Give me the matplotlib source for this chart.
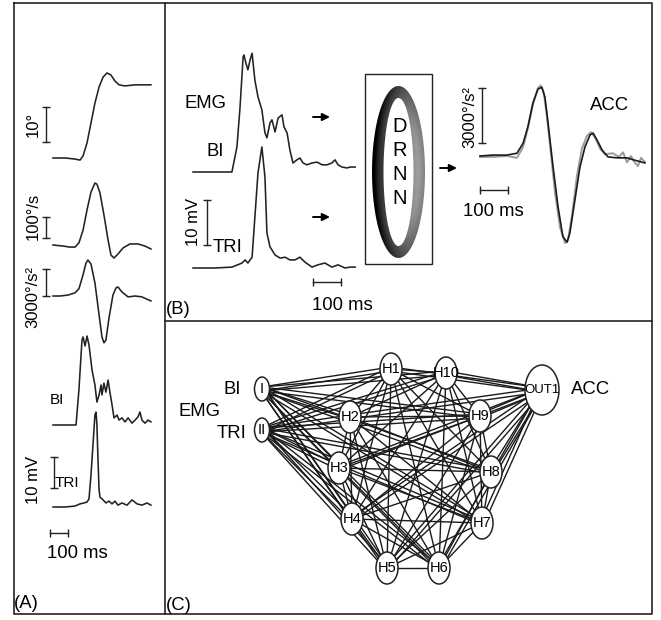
import numpy as np
import matplotlib
matplotlib.use("Agg")
import matplotlib.pyplot as plt
from matplotlib.patches import Ellipse, Rectangle, PathPatch
from matplotlib.path import Path

plt.rcParams['font.family'] = ['Liberation Sans', 'DejaVu Sans']

# ---- panel A traces (time in ms) ----
a_pos_t = [0, 67, 122, 150, 167, 189, 211, 233, 256, 278, 300, 322, 344, 367, 400, 456, 544]
a_pos_deg = [0, 0, -0.3, -0.6, 0.6, 4.3, 10.0, 15.7, 20.3, 23.1, 24.3, 23.7, 22.0, 20.9, 20.6, 20.9, 20.9]

a_vel_t = [0, 56, 94, 122, 144, 167, 189, 211, 233, 244, 261, 283, 306, 322, 339, 361, 389, 428, 472, 511, 544]
a_vel = [0, -5, -10, -10, 10, 71, 167, 252, 295, 290, 248, 143, 24, -48, -62, -43, -14, 5, 5, -5, -19]

a_acc_t = [0, 39, 83, 122, 144, 167, 183, 194, 211, 233, 256, 272, 283, 294, 311, 333, 350, 361, 383, 417, 456, 494, 544]
a_acc = [0, 0, 100, 350, 800, 2350, 3650, 4000, 3550, 1450, -2100, -4550, -5200, -4900, -2450, 100, 900, 1000, 450, -100, 0, -100, -550]

a_bi_t = [0, 128, 144, 161, 167, 178, 189, 200, 217, 233, 244, 256, 267, 272, 283, 294, 306, 317, 328,
          339, 356, 367, 383, 400, 417, 439, 456, 472, 483, 494, 511, 528, 544]
a_bi_mv = [0, 0, 11.3, 27.4, 28.4, 25.5, 28.7, 25.8, 17.7, 12.9, 7.4, 9.7, 12.9, 9.7, 13.5, 10.6, 14.5, 10.3, 6.5,
           2.3, 3.2, 1.6, 2.3, 1.0, 2.3, 0.6, 1.6, 2.6, 4.2, 1.6, 0.6, 1.6, 1.0]

a_tri_t = [0, 67, 122, 150, 172, 189, 200, 211, 222, 233, 239, 244, 250, 256, 261, 278, 294, 311, 328,
           344, 361, 383, 411, 439, 467, 494, 522, 544]
a_tri_mv = [0, 0, 0.3, 1.0, 1.3, 1.6, 2.6, 10.3, 20.0, 29.7, 30.6, 26.5, 15.2, 5.5, 3.2, 2.3, 1.3, 1.9, 1.0,
            1.9, 0.6, 1.3, 0.6, 2.3, 1.0, 0.6, 1.3, 0.6]

# ---- panel B traces ----
b_bi_t = [0, 139, 157, 168, 179, 182, 189, 196, 204, 211, 221, 232, 246, 257, 264, 275, 282, 293, 304, 318,
          325, 336, 346, 357, 371, 382, 393, 407, 425, 443, 461, 479, 496, 507, 518, 532, 550, 561, 579]
b_bi_mv = [0, 0, 5.6, 14.4, 25.6, 26.0, 24.2, 22.7, 24.9, 26.4, 20.4, 16.7, 13.8, 8.7, 7.6, 10.9, 11.6, 8.9, 12.0, 12.7,
           10.0, 8.7, 4.9, 2.0, 2.7, 3.1, 2.0, 1.6, 2.0, 2.2, 1.6, 1.6, 2.0, 2.7, 1.6, 1.1, 0.9, 1.1, 1.1]

b_tri_t = [0, 79, 139, 175, 186, 196, 211, 221, 232, 246, 257, 264, 275, 293, 311, 329, 346, 364, 382, 400,
           425, 446, 471, 496, 518, 543, 561, 579]
b_tri_mv = [0, 0, 0.2, 1.1, 1.8, 1.1, 2.4, 11.3, 21.1, 26.9, 20.2, 7.8, 4.7, 2.9, 2.2, 2.4, 1.8, 1.8, 2.4, 1.3,
            0.2, 0.7, 1.1, 0.2, 0.7, 0, 0.2, 0.2]

acc_meas_t = [0, 46, 96, 132, 154, 171, 189, 207, 221, 232, 243, 261, 279, 296, 311, 321, 339, 357, 375, 393,
              404, 418, 436, 457, 489, 525, 546, 589]
acc_meas = [0, 50, 50, 150, 700, 1600, 2900, 3650, 3750, 3200, 1800, -600, -2800, -4400, -4700, -4200, -2400, -600,
            500, 1150, 1250, 870, 330, -50, -100, -100, -200, -380]
acc_pred_t = [0, 46, 96, 132, 154, 171, 189, 207, 216, 227, 238, 252, 268, 286, 304, 314, 329, 346, 364, 382,
              396, 411, 429, 446, 475, 496, 511, 525, 539, 550, 564, 575, 589]
acc_pred = [-50, -50, 0, -100, 500, 1500, 2800, 3700, 3850, 3500, 2300, 300, -2000, -3900, -4750, -4600, -3200,
            -1100, 400, 1100, 1300, 1000, 400, 100, 150, -50, 200, -350, 0, -300, -550, -100, -330]

# ---- panel C network ----
node_names = ['I', 'II', 'H1', 'H2', 'H3', 'H4', 'H5', 'H6', 'H7', 'H8', 'H9', 'H10', 'OUT1']
input_nodes = ['I', 'II']
hidden_nodes = ['H1', 'H2', 'H3', 'H4', 'H5', 'H6', 'H7', 'H8', 'H9', 'H10']
output_nodes = ['OUT1']
node_xy = {'I': (262, 389), 'II': (262, 430), 'H1': (391, 369), 'H2': (350, 417), 'H3': (339, 468),
           'H4': (352, 519), 'H5': (387, 568), 'H6': (439, 568), 'H7': (482, 523), 'H8': (491, 472),
           'H9': (480, 416), 'H10': (446, 373), 'OUT1': (542, 390)}

W, H = 661, 620
fig = plt.figure(figsize=(W / 100, H / 100), dpi=100)
ax = fig.add_axes([0, 0, 1, 1])
ax.set_xlim(0, W)
ax.set_ylim(H, 0)
ax.axis('off')

ink = '#222222'


def trace_axes(x0, y0, sx, sy, t_lo, t_hi, v_lo, v_hi):
    # x0, y0 = pixel of (t=0, v=0); sx px per ms; sy px per unit
    left, right = x0 + t_lo * sx, x0 + t_hi * sx
    top, bottom = y0 - v_hi * sy, y0 - v_lo * sy
    a = fig.add_axes([left / W, 1 - bottom / H, (right - left) / W, (bottom - top) / H])
    a.set_xlim(t_lo, t_hi)
    a.set_ylim(v_lo, v_hi)
    a.axis('off')
    a.patch.set_alpha(0)
    return a


def vbar(a, t, v0, length):
    a.plot([t, t], [v0, v0 + length], color=ink, lw=1.0, marker='_', ms=6, mew=1.0, clip_on=False)


def hbar(a, t0, v, length):
    a.plot([t0, t0 + length], [v, v], color=ink, lw=1.0, marker='|', ms=6, mew=1.0, clip_on=False)


lw_tr = 1.15
# panel A
p = trace_axes(53, 158, 0.18, 3.5, -60, 560, -5, 30)
p.plot(a_pos_t, a_pos_deg, color=ink, lw=lw_tr)
vbar(p, -39, 4.6, 10)
v = trace_axes(53, 245, 0.18, 0.21, -60, 560, -100, 330)
v.plot(a_vel_t, a_vel, color=ink, lw=lw_tr)
vbar(v, -39, 33, 100)
c = trace_axes(53, 296, 0.18, 0.009, -60, 560, -5500, 4500)
c.plot(a_acc_t, a_acc, color=ink, lw=lw_tr)
vbar(c, -39, 0, 3000)
b = trace_axes(53, 425, 0.18, 3.1, -60, 560, -3, 32)
b.plot(a_bi_t, a_bi_mv, color=ink, lw=lw_tr)
t = trace_axes(53, 507, 0.18, 3.1, -60, 560, -10, 32)
t.plot(a_tri_t, a_tri_mv, color=ink, lw=lw_tr)
vbar(t, 5.6, 6.1, 10)
hbar(t, -17, -8.4, 100)

# panel B
b2 = trace_axes(193, 172, 0.28, 4.5, -20, 600, -3, 28)
b2.plot(b_bi_t, b_bi_mv, color=ink, lw=lw_tr)
t2 = trace_axes(193, 268, 0.28, 4.5, -20, 600, -4, 28)
t2.plot(b_tri_t, b_tri_mv, color=ink, lw=lw_tr)
vbar(t2, 50, 5.1, 10)
hbar(t2, 429, -3.1, 100)
ac = trace_axes(480, 156, 0.28, 55 / 3000, -20, 600, -5000, 4200)
ac.plot(acc_pred_t, acc_pred, color='#9a9a9a', lw=1.4)
ac.plot(acc_meas_t, acc_meas, color='#1a1a1a', lw=1.2)
vbar(ac, 7, 709, 3000)
hbar(ac, 0, -1855, 100)

# frame
fr = dict(color=ink, lw=1.2)
ax.plot([14, 652, 652, 14, 14], [3, 3, 614, 614, 3], **fr)
ax.plot([165, 165], [3, 614], **fr)
ax.plot([165, 652], [321, 321], **fr)

# texts
big = 13.3
ax.text(33, 124, '10°', rotation=90, ha='center', va='center', fontsize=12)
ax.text(33, 216, '100°/s', rotation=90, ha='center', va='center', fontsize=12)
ax.text(33, 297, '3000°/s²', rotation=90, ha='center', va='center', fontsize=12)
ax.text(33, 480, '10 mV', rotation=90, ha='center', va='center', fontsize=12)
ax.text(50, 400, 'BI', ha='left', va='center', fontsize=11)
ax.text(55, 483, 'TRI', ha='left', va='center', fontsize=11)
ax.text(47, 553, '100 ms', ha='left', va='center', fontsize=big)
ax.text(14, 603, '(A)', ha='left', va='center', fontsize=big)

ax.text(185, 103, 'EMG', ha='left', va='center', fontsize=big)
ax.text(207, 152, 'BI', ha='left', va='center', fontsize=big)
ax.text(193, 222, '10 mV', rotation=90, ha='center', va='center', fontsize=12)
ax.text(213, 248, 'TRI', ha='left', va='center', fontsize=big)
ax.text(342, 305, '100 ms', ha='center', va='center', fontsize=big)
ax.text(166, 309, '(B)', ha='left', va='center', fontsize=big)
ax.text(470, 117, '3000°/s²', rotation=90, ha='center', va='center', fontsize=12)
ax.text(493, 212, '100 ms', ha='center', va='center', fontsize=big)
ax.text(590, 105, 'ACC', ha='left', va='center', fontsize=big)

for x0, x1, y in [(313, 330, 117), (313, 330, 217), (440, 457, 168)]:
    ax.annotate('', xy=(x1, y), xytext=(x0, y),
                arrowprops=dict(arrowstyle='-|>', color='k', lw=1.4, mutation_scale=11,
                                shrinkA=0, shrinkB=0))

# DRNN box with shaded ring
ax.add_patch(Rectangle((365, 74), 67, 190, fill=False, ec=ink, lw=1.0))
cx, cy = 398.5, 172
th = np.linspace(0, 2 * np.pi, 200)
outer = np.column_stack([cx + 26.5 * np.cos(th), cy + 86 * np.sin(th)])
inner = np.column_stack([cx + 15 * np.cos(th[::-1]), cy + 74 * np.sin(th[::-1])])
codes = [Path.MOVETO] + [Path.LINETO] * 198 + [Path.CLOSEPOLY]
ring = PathPatch(Path(np.vstack([outer, inner]), codes + codes), fc='none', ec='none')
ax.add_patch(ring)
gx, gy = np.meshgrid(np.linspace(-1, 1, 120), np.linspace(-1, 1, 200))
rim = np.hypot(gx, gy * 0.98)
grad = 0.40 + 0.30 * gx - 0.18 * np.clip(rim - 0.75, 0, 1) * 4
im = ax.imshow(grad, extent=(372, 425, 258, 86), cmap='gray', vmin=0, vmax=1,
               aspect='auto', interpolation='bilinear')
im.set_clip_path(ring)
for i, ch in enumerate('DRNN'):
    ax.text(400, 127 + 24 * i, ch, ha='center', va='center', fontsize=14.5)
ax.set_xlim(0, W)
ax.set_ylim(H, 0)

# network edges
edge_kw = dict(color='#1a1a1a', lw=1.0, zorder=2)


def edge(n1, n2, offsets):
    (x1, y1), (x2, y2) = node_xy[n1], node_xy[n2]
    d = np.hypot(x2 - x1, y2 - y1)
    nx, ny = -(y2 - y1) / d, (x2 - x1) / d
    for off in offsets:
        ax.plot([x1 + nx * off, x2 + nx * off], [y1 + ny * off, y2 + ny * off], **edge_kw)


for i in input_nodes:
    for h in hidden_nodes:
        edge(i, h, (-2.0, 2.0))
for k, h1 in enumerate(hidden_nodes):
    for h2 in hidden_nodes[k + 1:]:
        edge(h1, h2, (0,))
for h in hidden_nodes:
    for o in output_nodes:
        edge(h, o, (-2.0, 2.0))

node_size = {'I': (15, 24), 'II': (15, 24), 'OUT1': (34, 50)}
for name in node_names:
    w, h = node_size.get(name, (22, 32))
    x, y = node_xy[name]
    ax.add_patch(Ellipse((x, y), w, h, fc='white', ec=ink, lw=1.1, zorder=3))
    ax.text(x, y, name, ha='center', va='center', zorder=4,
            fontsize=9.5 if name == 'OUT1' else 10.5)

ax.text(241, 390, 'BI', ha='right', va='center', fontsize=big)
ax.text(179, 411, 'EMG', ha='left', va='center', fontsize=big)
ax.text(246, 433, 'TRI', ha='right', va='center', fontsize=big)
ax.text(571, 390, 'ACC', ha='left', va='center', fontsize=big)
ax.text(166, 605, '(C)', ha='left', va='center', fontsize=big)

fig.savefig('out.png', dpi=100)
